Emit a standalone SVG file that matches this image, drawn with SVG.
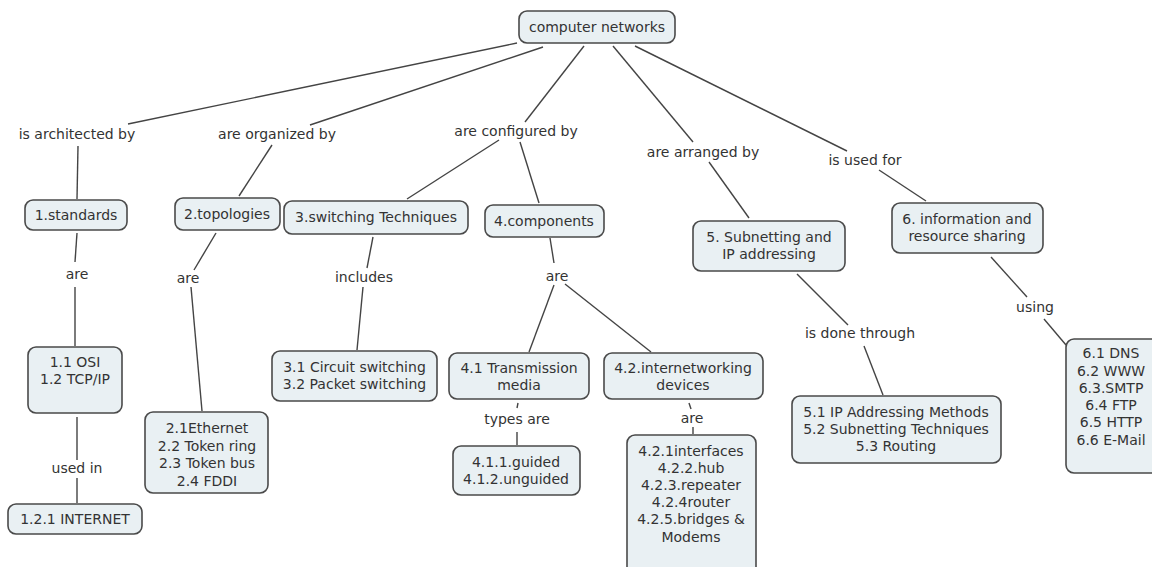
<svg xmlns="http://www.w3.org/2000/svg" width="1152" height="567" viewBox="0 0 1152 567">
<style>
.box{fill:#e9f0f3;stroke:#4a4a4a;stroke-width:1.6}
text{font-family:"DejaVu Sans",Verdana,sans-serif;font-size:14px;fill:#333;text-anchor:middle}
.c line{stroke:#444;stroke-width:1.4}
</style>
<rect width="1152" height="567" fill="#fff"/>
<g class="c" id="connectors">
<line x1="517" y1="43" x2="128" y2="124"/>
<line x1="543" y1="47" x2="310" y2="125"/>
<line x1="584" y1="46" x2="525" y2="122"/>
<line x1="613" y1="46" x2="693" y2="142"/>
<line x1="635" y1="46" x2="847" y2="151"/>
<line x1="78" y1="146" x2="77" y2="199"/>
<line x1="272" y1="145" x2="239" y2="196"/>
<line x1="499" y1="140" x2="407" y2="199"/>
<line x1="520" y1="142" x2="539" y2="203"/>
<line x1="709" y1="162" x2="749" y2="218"/>
<line x1="879" y1="170" x2="926" y2="201"/>
<line x1="77" y1="233" x2="75" y2="262"/>
<line x1="75" y1="287" x2="75" y2="346"/>
<line x1="77" y1="417" x2="77" y2="460"/>
<line x1="77" y1="478" x2="77" y2="503"/>
<line x1="216" y1="233" x2="194" y2="270"/>
<line x1="191" y1="287" x2="202" y2="411"/>
<line x1="373" y1="237" x2="367" y2="268"/>
<line x1="363" y1="287" x2="357" y2="350"/>
<line x1="550" y1="238" x2="554" y2="263"/>
<line x1="554" y1="285" x2="529" y2="352"/>
<line x1="565" y1="284" x2="651" y2="352"/>
<line x1="518" y1="403" x2="517" y2="408"/>
<line x1="517" y1="432" x2="517" y2="445"/>
<line x1="689" y1="403" x2="691" y2="409"/>
<line x1="693" y1="427" x2="693" y2="434"/>
<line x1="797" y1="274" x2="848" y2="325"/>
<line x1="864" y1="346" x2="883" y2="395"/>
<line x1="991" y1="257" x2="1027" y2="297"/>
<line x1="1044" y1="319" x2="1066" y2="345"/>
</g>
<g id="labels">
<text x="77" y="139">is architected by</text>
<text x="277" y="139">are organized by</text>
<text x="516" y="136">are configured by</text>
<text x="703" y="157">are arranged by</text>
<text x="865" y="165">is used for</text>
<text x="77" y="279">are</text>
<text x="188" y="283">are</text>
<text x="364" y="282">includes</text>
<text x="557" y="281">are</text>
<text x="77" y="473">used in</text>
<text x="517" y="424">types are</text>
<text x="692" y="423">are</text>
<text x="860" y="338">is done through</text>
<text x="1035" y="312">using</text>
</g>
<g id="n-root"><rect class="box" x="519" y="11" width="156" height="32" rx="8"/><text x="597" y="32">computer networks</text></g>
<g id="n1"><rect class="box" x="25" y="200" width="102" height="30" rx="8"/><text x="76" y="220">1.standards</text></g>
<g id="n2"><rect class="box" x="175" y="198" width="105" height="32" rx="8"/><text x="227" y="219">2.topologies</text></g>
<g id="n3"><rect class="box" x="284" y="201" width="184" height="33" rx="8"/><text x="376" y="222">3.switching Techniques</text></g>
<g id="n4"><rect class="box" x="485" y="205" width="119" height="32" rx="8"/><text x="544" y="226">4.components</text></g>
<g id="n5"><rect class="box" x="693" y="221" width="152" height="50" rx="8"/><text x="769" y="242">5. Subnetting and</text><text x="769" y="259">IP addressing</text></g>
<g id="n6"><rect class="box" x="892" y="203" width="151" height="50" rx="8"/><text x="967" y="224">6. information and</text><text x="967" y="241">resource sharing</text></g>
<g id="n11"><rect class="box" x="28" y="347" width="94" height="66" rx="8"/><text x="75" y="367">1.1 OSI</text><text x="75" y="384">1.2 TCP/IP</text></g>
<g id="n121"><rect class="box" x="8" y="504" width="134" height="30" rx="8"/><text x="75" y="524">1.2.1 INTERNET</text></g>
<g id="n21"><rect class="box" x="145" y="412" width="123" height="81" rx="8"/><text x="207" y="433">2.1Ethernet</text><text x="207" y="450.5">2.2 Token ring</text><text x="207" y="468">2.3 Token bus</text><text x="207" y="485.5">2.4 FDDI</text></g>
<g id="n31"><rect class="box" x="272" y="351" width="165" height="50" rx="8"/><text x="354.5" y="372">3.1 Circuit switching</text><text x="354.5" y="389">3.2 Packet switching</text></g>
<g id="n41"><rect class="box" x="449" y="353" width="140" height="46" rx="8"/><text x="519" y="373">4.1 Transmission</text><text x="519" y="390">media</text></g>
<g id="n42"><rect class="box" x="604" y="353" width="159" height="46" rx="8"/><text x="683" y="373">4.2.internetworking</text><text x="683" y="390">devices</text></g>
<g id="n411"><rect class="box" x="453" y="446" width="127" height="49" rx="8"/><text x="516" y="467">4.1.1.guided</text><text x="516" y="484">4.1.2.unguided</text></g>
<g id="n421"><rect class="box" x="627" y="435" width="129" height="140" rx="8"/><text x="691" y="456">4.2.1interfaces</text><text x="691" y="473">4.2.2.hub</text><text x="691" y="490">4.2.3.repeater</text><text x="691" y="507">4.2.4router</text><text x="691" y="524">4.2.5.bridges &amp;</text><text x="691" y="542">Modems</text></g>
<g id="n51"><rect class="box" x="792" y="396" width="209" height="67" rx="8"/><text x="896" y="417">5.1 IP Addressing Methods</text><text x="896" y="434">5.2 Subnetting Techniques</text><text x="896" y="451">5.3 Routing</text></g>
<g id="n61"><rect class="box" x="1066" y="339" width="100" height="134" rx="8"/><text x="1111" y="358">6.1 DNS</text><text x="1111" y="376">6.2 WWW</text><text x="1111" y="393">6.3.SMTP</text><text x="1111" y="410">6.4 FTP</text><text x="1111" y="427">6.5 HTTP</text><text x="1111" y="445">6.6 E-Mail</text></g>
</svg>
